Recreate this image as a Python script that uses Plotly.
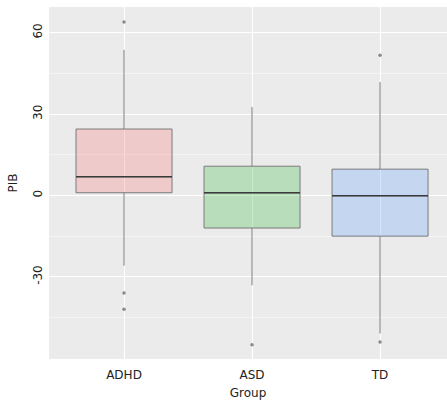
import plotly.graph_objects as go

groups = ["ADHD", "ASD", "TD"]
q1 = [1.0, -12.0, -15.0]
median = [6.9, 1.0, -0.1]
q3 = [24.5, 10.8, 9.7]
lower = [-25.9, -33.1, -50.9]
upper = [53.7, 32.6, 41.8]
outliers = [[64.0, -36.0, -42.0], [-55.0], [51.7, -54.0]]
y_ticks = [-30, 0, 30, 60]
y_ticklabels = ["-30", "0", "30", "60"]
fills = ["rgba(245,128,125,0.3)", "rgba(65,188,72,0.3)", "rgba(110,165,255,0.3)"]

box_w = 0.75
fig = go.Figure()
for i, g in enumerate(groups):
    fig.add_trace(go.Box(
        x=[i], q1=[q1[i]], median=[median[i]], q3=[q3[i]],
        lowerfence=[lower[i]], upperfence=[upper[i]],
        width=box_w, whiskerwidth=0, fillcolor=fills[i],
        line=dict(color="#7a7a7a", width=1), boxpoints=False,
        hoverinfo="skip", showlegend=False, name=g))
    fig.add_trace(go.Scatter(
        x=[i - box_w / 2, i + box_w / 2], y=[median[i], median[i]],
        mode="lines", line=dict(color="#3a3a3a", width=1.4),
        showlegend=False, hoverinfo="skip"))
    fig.add_trace(go.Scatter(
        x=[i] * len(outliers[i]), y=outliers[i], mode="markers",
        marker=dict(color="#8a8a8a", size=3.5), showlegend=False,
        hoverinfo="skip"))

fig.update_layout(
    width=447, height=403,
    margin=dict(l=49, r=0, t=7, b=44, autoexpand=False),
    paper_bgcolor="white", plot_bgcolor="#EBEBEB",
    font=dict(family="DejaVu Sans", size=12, color="#222222"),
)
fig.update_xaxes(
    range=[-0.586, 2.523], tickvals=[0, 1, 2], ticktext=groups,
    showgrid=True, gridcolor="white", gridwidth=1.1, zeroline=False,
    showline=False, ticks="", ticklabelstandoff=7,
    title=dict(text="Group", standoff=7, font=dict(size=12)),
)
fig.update_yaxes(
    range=[-60.3, 69.5], tickvals=y_ticks, ticktext=y_ticklabels, tickangle=-90,
    showgrid=True, gridcolor="white", gridwidth=1.1, zeroline=False,
    showline=False, ticks="", ticklabelstandoff=4,
    minor=dict(tickvals=[-60, -45, -15, 15, 45], showgrid=True,
               gridcolor="#F5F5F5", gridwidth=0.6),
    title=dict(text="PIB", standoff=10, font=dict(size=12)),
)
fig.write_html("out.html", config={"displayModeBar": False},
               post_script="document.body.style.margin='0';")
